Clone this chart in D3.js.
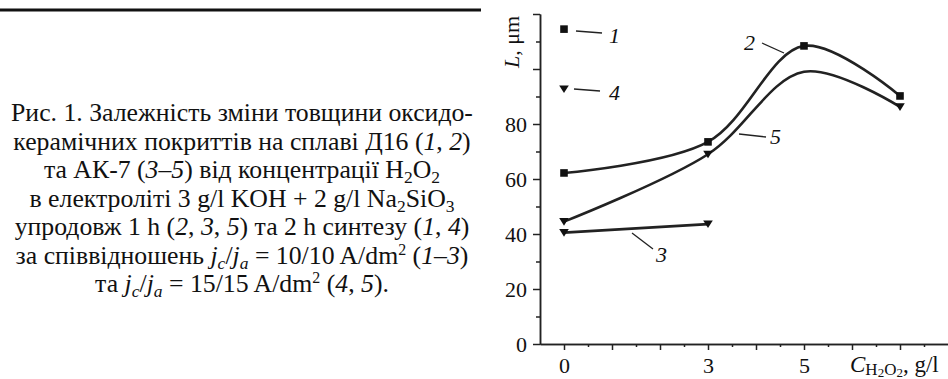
<!DOCTYPE html>
<html lang="uk">
<head>
<meta charset="utf-8">
<title>Рис. 1</title>
<script src="https://d3js.org/d3.v7.min.js"></script>
<style>
  body { margin: 0; background: #fff; }
  svg { display: block; }
  text { font-family: "Liberation Serif", "Times New Roman", "DejaVu Serif", serif; }
  .axis path, .axis line { stroke: #222; stroke-width: 1.5; }
  .curve { fill: none; stroke: #222; stroke-width: 2.6; }
  .lead { stroke: #222; stroke-width: 1.3; }
</style>
</head>
<body>
<svg width="948" height="379" font-family="Liberation Serif, Times New Roman, serif"></svg>
<script>
// data
var xVals = [0, 3, 5, 7];
var s1 = [114.5];                    // Д16, 2 h, 10/10 (only at 0)
var s2 = [62.2, 73.5, 108.4, 90.2];  // Д16, 1 h
var s3x = [0, 3];
var s3 = [40.5, 43.6];               // АК-7, 1 h, 10/10
var s4 = [92.7];                     // АК-7, 2 h, 15/15 (only at 0)
var s5 = [44.5, 69, 99, 86.2];       // АК-7, 1 h, 15/15
var s5Marked = [true, true, false, true];
var xTickLabels = [0, 3, 5];
var yTickLabels = [0, 20, 40, 60, 80];

var svg = d3.select("svg");
var fs = 22;

var x = d3.scaleLinear().domain([-0.5, 8]).range([540, 948]);
var y = d3.scaleLinear().domain([0, 120]).range([344, 14]);

// top rule over the caption
svg.append("line")
    .attr("x1", 0).attr("x2", 481).attr("y1", 10).attr("y2", 10)
    .attr("stroke", "#111").attr("stroke-width", 3);

// caption (centered lines, parts: [text, style])
var caption = [
  [["Рис. 1. Залежність зміни товщини оксидо-"]],
  [["керамічних покриттів на сплаві Д16 ("], ["1", "i"], [", "], ["2", "i"], [")"]],
  [["та АК-7 ("], ["3–5", "i"], [") від концентрації H"], ["2", "sub"], ["O"], ["2", "sub"]],
  [["в електроліті 3 g/l KOH + 2 g/l Na"], ["2", "sub"], ["SiO"], ["3", "sub"]],
  [["упродовж 1 h ("], ["2", "i"], [", "], ["3", "i"], [", "], ["5", "i"], [") та 2 h синтезу ("], ["1", "i"], [", "], ["4", "i"], [")"]],
  [["за співвідношень "], ["j", "i"], ["c", "isub"], ["/"], ["j", "i"], ["a", "isub"], [" = 10/10 A/dm"], ["2", "sup"], [" ("], ["1–3", "i"], [")"]],
  [["та "], ["j", "i"], ["c", "isub"], ["/"], ["j", "i"], ["a", "isub"], [" = 15/15 A/dm"], ["2", "sup"], [" ("], ["4", "i"], [", "], ["5", "i"], [")."]]
];

// pick the caption size so the first line is as wide as in the figure
var probe = svg.append("text").attr("font-size", 20).text(caption[0][0][0]);
var capFs = 20 * 462 / probe.node().getComputedTextLength();
probe.remove();

caption.forEach(function(parts, li) {
  var t = svg.append("text")
      .attr("x", 242).attr("y", 121 + li * 28.5)
      .attr("text-anchor", "middle")
      .attr("font-size", capFs)
      .attr("fill", "#111");
  var shift = 0;
  parts.forEach(function(p) {
    var sp = t.append("tspan").text(p[0]);
    var st = p[1] || "";
    var want = 0;
    if (st === "sub" || st === "isub") { want = 5; sp.attr("font-size", capFs * 0.68); }
    if (st === "sup") { want = -9; sp.attr("font-size", capFs * 0.62); }
    if (st === "i" || st === "isub") sp.attr("font-style", "italic");
    if (want !== shift) { sp.attr("dy", want - shift); shift = want; }
  });
});

// axes
var yMajor = d3.axisLeft(y).tickValues(d3.range(0, 121, 20)).tickSize(7).tickSizeOuter(0)
    .tickPadding(6)
    .tickFormat(function(d) { return yTickLabels.indexOf(d) >= 0 ? d : ""; });
var yMinor = d3.axisLeft(y).tickValues(d3.range(10, 120, 20)).tickSize(4).tickSizeOuter(0)
    .tickFormat("");
var xMajor = d3.axisBottom(x).tickValues(d3.range(0, 8, 1)).tickSize(6).tickSizeOuter(0)
    .tickPadding(7)
    .tickFormat(function(d) { return xTickLabels.indexOf(d) >= 0 ? d : ""; });
var xMinor = d3.axisBottom(x).tickValues(d3.range(0.5, 8, 1)).tickSize(3).tickSizeOuter(0)
    .tickFormat("");

[[yMajor, "translate(540,0)"], [yMinor, "translate(540,0)"],
 [xMajor, "translate(0,344)"], [xMinor, "translate(0,344)"]].forEach(function(a) {
  svg.append("g").attr("class", "axis")
      .attr("transform", a[1])
      .call(a[0])
      .attr("font-family", null)
      .attr("font-size", fs)
      .selectAll("text").attr("fill", "#111");
});

// axis titles
var yl = svg.append("text")
    .attr("transform", "translate(519,68) rotate(-90)")
    .attr("font-size", fs).attr("fill", "#111");
yl.append("tspan").attr("font-style", "italic").text("L");
yl.append("tspan").text(", μm");

var xl = svg.append("text").attr("x", 850).attr("y", 372)
    .attr("font-size", 23).attr("fill", "#111");
xl.append("tspan").attr("font-style", "italic").text("C");
xl.append("tspan").attr("font-size", 17).attr("dy", 3).text("H");
xl.append("tspan").attr("font-size", 13).attr("dy", 2).text("2");
xl.append("tspan").attr("font-size", 17).attr("dy", -2).text("O");
xl.append("tspan").attr("font-size", 13).attr("dy", 2).text("2");
xl.append("tspan").attr("dy", -5).text(", g/l");

// curves
var toPts = function(xs, ys) { return ys.map(function(v, i) { return [xs[i], v]; }); };
var smooth = d3.line().x(function(d) { return x(d[0]); }).y(function(d) { return y(d[1]); })
    .curve(d3.curveCatmullRom.alpha(0.5));
var straight = d3.line().x(function(d) { return x(d[0]); }).y(function(d) { return y(d[1]); });

svg.append("path").attr("class", "curve").attr("d", smooth(toPts(xVals, s2)));
svg.append("path").attr("class", "curve").attr("d", smooth(toPts(xVals, s5)));
svg.append("path").attr("class", "curve").attr("d", straight(toPts(s3x, s3)));

// markers
var square = "M-3.8,-3.8H3.8V3.8H-3.8Z";
var tri = "M-4.8,-3.6H4.8L0,4Z";
function marks(pts, shape) {
  svg.append("g").selectAll("path").data(pts).join("path")
      .attr("d", shape).attr("fill", "#111")
      .attr("transform", function(d) { return "translate(" + x(d[0]) + "," + y(d[1]) + ")"; });
}
marks(toPts([0], s1), square);
marks(toPts(xVals, s2), square);
marks(toPts(s3x, s3), tri);
marks(toPts([0], s4), tri);
marks(toPts(xVals, s5).filter(function(d, i) { return s5Marked[i]; }), tri);

// curve numbers with leader lines
var labels = [
  {n: "1", x1: 576, y1: 31, x2: 602, y2: 33, tx: 609, ty: 43},
  {n: "4", x1: 574, y1: 89, x2: 600, y2: 91, tx: 609, ty: 100},
  {n: "2", x1: 762, y1: 43, x2: 784, y2: 53, tx: 744, ty: 50},
  {n: "5", x1: 739, y1: 134, x2: 766, y2: 137, tx: 770, ty: 144},
  {n: "3", x1: 632, y1: 233, x2: 653, y2: 249, tx: 656, ty: 262}
];
svg.append("g").selectAll("line").data(labels).join("line").attr("class", "lead")
    .attr("x1", function(d) { return d.x1; }).attr("y1", function(d) { return d.y1; })
    .attr("x2", function(d) { return d.x2; }).attr("y2", function(d) { return d.y2; });
svg.append("g").selectAll("text").data(labels).join("text")
    .attr("x", function(d) { return d.tx; }).attr("y", function(d) { return d.ty; })
    .attr("font-size", fs).attr("font-style", "italic").attr("fill", "#111")
    .text(function(d) { return d.n; });
</script>
</body>
</html>
